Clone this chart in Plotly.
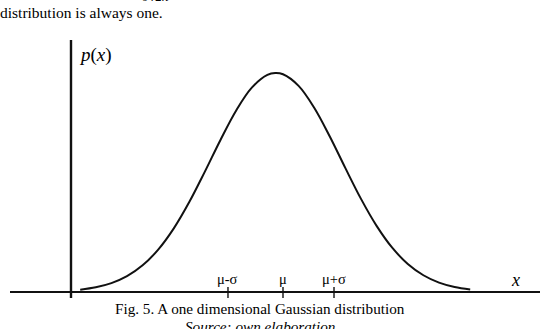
import plotly.graph_objects as go

# Curve samples (x in units of roughly sigma around mu, p(x) with peak ~0.40)
curve_x = [-3.9, -3.6, -3.3, -3.0, -2.7, -2.4, -2.1, -1.8, -1.5, -1.2, -0.9, -0.6, -0.3, -0.15,
           0.0, 0.3, 0.6, 0.9, 1.2, 1.5, 1.8, 2.1, 2.4, 2.7, 3.0, 3.3, 3.6]
curve_p = [0.0043, 0.0086, 0.0162, 0.0289, 0.0487, 0.0774, 0.1162, 0.1647, 0.2203, 0.2782,
           0.3316, 0.3732, 0.3965, 0.4000, 0.3977, 0.3765, 0.3366, 0.2840, 0.2262, 0.1701,
           0.1208, 0.0809, 0.0512, 0.0306, 0.0172, 0.0092, 0.0046]

tick_positions = [-1.058, 0.0, 0.981]
tick_labels = ["μ-σ", "μ", "μ+σ"]

x_label = "<i>x</i>"
y_label = "<i>p</i>(<i>x</i>)"
caption = "Fig. 5. A one dimensional Gaussian distribution"
source = "<i>Source: own elaboration</i>"
top_text = "distribution is always one."
top_fragment = "<i>σ√2π</i>"

XR = [-5.4423, 4.9423]
YR = [-0.06758, 0.53333]

fig = go.Figure()
fig.add_trace(go.Scatter(x=curve_x, y=curve_p, mode="lines",
                         line=dict(color="#111111", width=2, shape="spline"),
                         hoverinfo="skip", showlegend=False))

# axes lines
fig.add_shape(type="line", x0=-5.25, x1=5.0, y0=0, y1=0,
              line=dict(color="#111111", width=2.2), layer="below")
fig.add_shape(type="line", x0=-4.077, x1=-4.077, y0=-0.011, y1=0.4603,
              line=dict(color="#111111", width=2.4), layer="below")

# tick marks and labels
for tp, tl in zip(tick_positions, tick_labels):
    fig.add_shape(type="line", x0=tp, x1=tp, y0=-0.011, y1=0.0091,
                  line=dict(color="#111111", width=1.4))
    fig.add_annotation(x=tp, y=0.0235, text=tl, showarrow=False,
                       xanchor="center", yanchor="middle",
                       font=dict(family="Liberation Serif", size=14.5, color="#000000"))

fig.add_annotation(x=4.48, y=0.0219, text=x_label, showarrow=False,
                   xanchor="center", yanchor="middle",
                   font=dict(family="Liberation Serif", size=18, color="#000000"))
fig.add_annotation(x=-3.97, y=0.432, text=y_label, showarrow=False,
                   xanchor="left", yanchor="middle",
                   font=dict(family="Liberation Serif", size=19, color="#000000"))

fig.add_annotation(xref="paper", yref="paper", x=0.4815, y=1 - 308 / 329, text=caption,
                   showarrow=False, xanchor="center", yanchor="middle",
                   font=dict(family="Liberation Serif", size=15.2, color="#000000"))
fig.add_annotation(xref="paper", yref="paper", x=0.4815, y=1 - 326 / 329, text=source,
                   showarrow=False, xanchor="center", yanchor="middle",
                   font=dict(family="Liberation Serif", size=15.2, color="#000000"))
fig.add_annotation(xref="paper", yref="paper", x=-0.003, y=1 - 13 / 329, text=top_text,
                   showarrow=False, xanchor="left", yanchor="middle",
                   font=dict(family="Liberation Serif", size=15.5, color="#000000"))
fig.add_annotation(xref="paper", yref="paper", x=155 / 540, y=1 + 4 / 329, text=top_fragment,
                   showarrow=False, xanchor="center", yanchor="middle",
                   font=dict(family="Liberation Serif", size=13, color="#000000"))

fig.update_layout(
    width=540, height=329,
    margin=dict(l=0, r=0, t=0, b=0),
    paper_bgcolor="white", plot_bgcolor="white",
    xaxis=dict(range=XR, visible=False, fixedrange=True),
    yaxis=dict(range=YR, visible=False, fixedrange=True),
    showlegend=False,
)

fig.write_html("out.html")
